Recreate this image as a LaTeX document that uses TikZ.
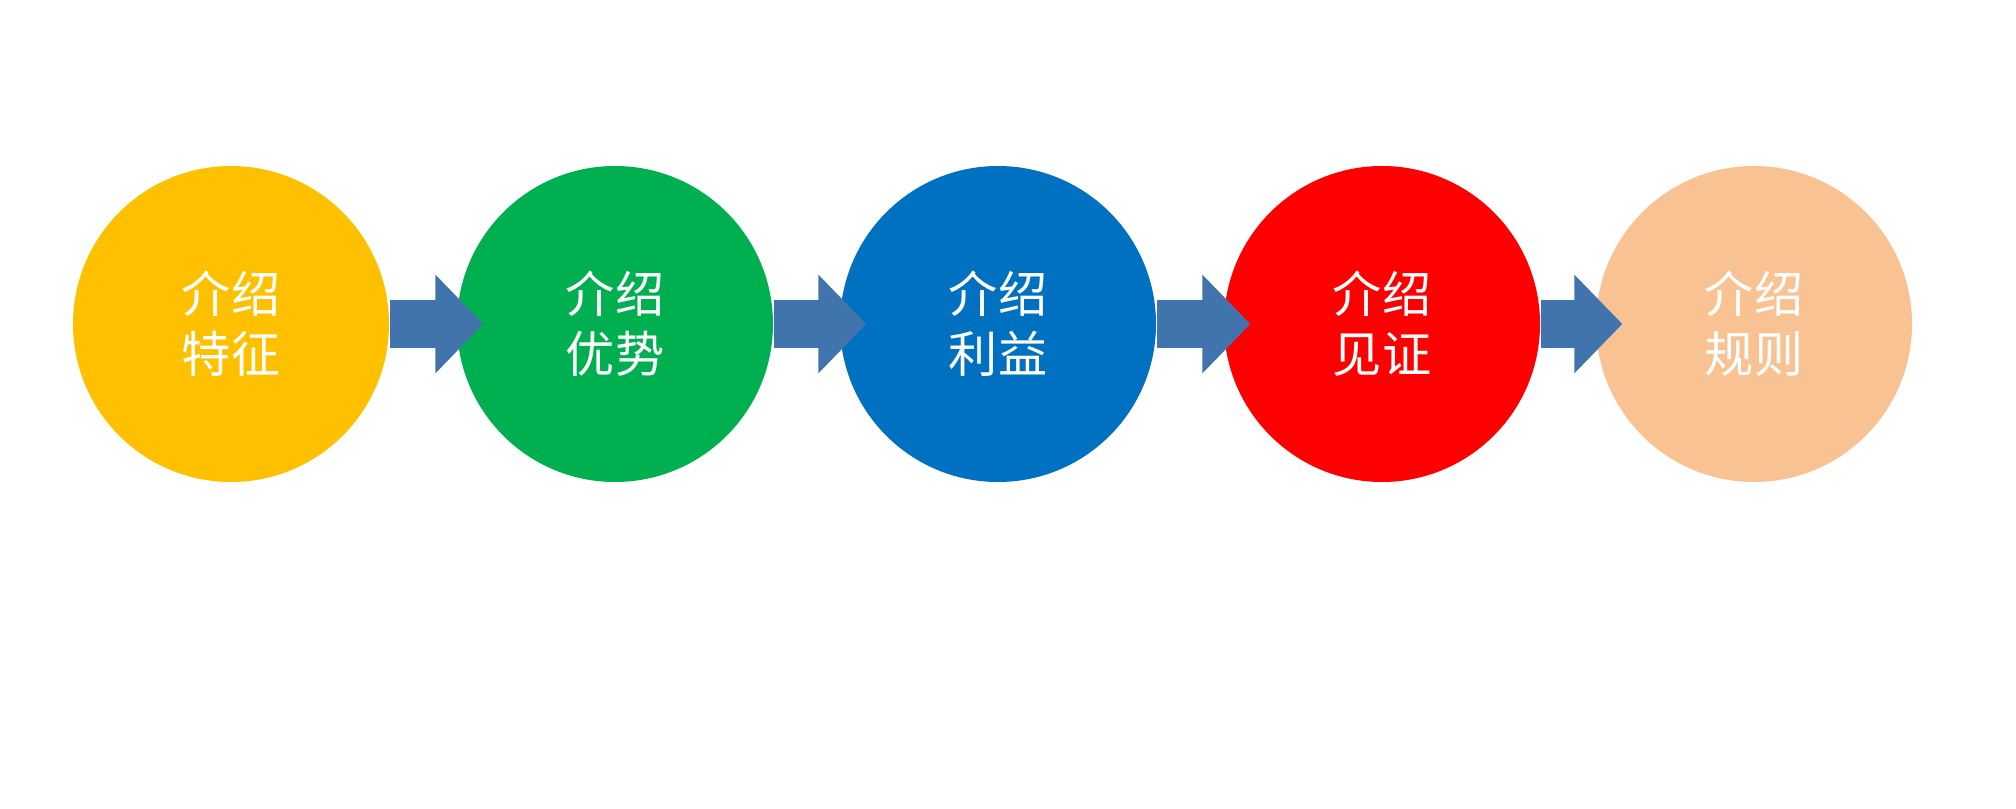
\documentclass[tikz,border=0pt]{standalone}
\usepackage{fontspec}
\newfontfamily\cjk{Noto Sans CJK SC}
\usetikzlibrary{arrows.meta}
\definecolor{cyellow}{HTML}{FFC000}
\definecolor{cgreen}{HTML}{00B050}
\definecolor{cblue}{HTML}{0070C0}
\definecolor{cred}{HTML}{FF0000}
\definecolor{cpeach}{HTML}{F9C292}
\definecolor{carrow}{HTML}{4174AD}
\begin{document}
\begin{tikzpicture}[
    disc/.style={circle,minimum size=3.16cm,inner sep=0pt,text=white,align=center,
                 font=\cjk\fontsize{14pt}{17pt}\selectfont},
    flow/.style={draw=carrow,line width=0.48cm,-{Triangle[width=0.96cm,length=0.48cm]}}
  ]
  \useasboundingbox (0,0) rectangle (20.16,8.08);
  \foreach \x/\c/\n/\t in {2.31/cyellow/a/特征,6.15/cgreen/b/优势,9.98/cblue/c/利益,13.82/cred/d/见证,17.54/cpeach/e/规则}
    \node [disc,fill=\c] (\n) at (\x,4.84) {介绍\\\t};
  % arrows on top of the next circle
  \foreach \p/\q in {a/b,b/c,c/d,d/e}
    \draw [flow] (\p.east) -- ([xshift=0.27cm]\q.west);
\end{tikzpicture}
\end{document}
